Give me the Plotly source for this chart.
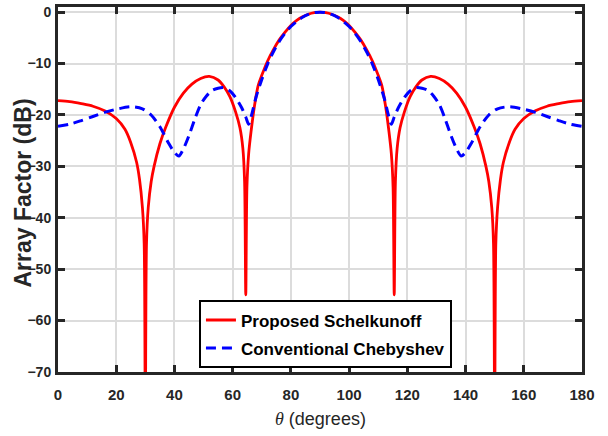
import plotly.graph_objects as go

# ---- data ----
theta_schelkunoff = [0, 4, 8, 12, 16, 20, 23, 25, 27, 28, 29, 29.6, 30, 30.4, 31, 32, 33, 35, 37, 40,
                     43, 46, 49, 52, 55, 57, 59, 61, 62.5, 63.5, 64.1, 64.5, 64.9, 65.5, 66.3, 67.5,
                     68.8, 70, 72, 74, 76, 78, 80, 82, 84, 86, 88, 90,
                     92, 94, 96, 98, 100, 102, 104, 106, 108, 110, 111.2, 112.5, 113.7, 114.5, 115.1,
                     115.5, 115.9, 116.5, 117.5, 119, 121, 123, 125, 128, 131, 134, 137, 140, 143, 145,
                     147, 148, 149, 149.6, 150, 150.4, 151, 152, 153, 155, 157, 160, 164, 168, 172,
                     176, 180]
af_schelkunoff = [-17.2, -17.4, -17.8, -18.3, -19.2, -20.7, -22.8, -25.4, -29.2, -32.5, -38, -45, -80,
                  -45, -38, -33, -30, -25.6, -22.4, -18.5, -15.8, -14.0, -12.9, -12.5, -13.2, -14.5,
                  -16.4, -19.4, -22.5, -26.5, -33, -55, -34, -27.5, -23.3, -18.2, -14.2, -12.3, -9.5,
                  -7.3, -5.4, -3.9, -2.6, -1.6, -0.9, -0.4, -0.1, 0,
                  -0.1, -0.4, -0.9, -1.6, -2.6, -3.9, -5.4, -7.3, -9.5, -12.3, -14.2, -18.2, -23.3,
                  -27.5, -34, -55, -33, -26.5, -22.5, -19.4, -16.4, -14.5, -13.2, -12.5, -12.9, -14.0,
                  -15.8, -18.5, -22.4, -25.6, -30, -33, -38, -45, -80, -45, -38, -32.5, -29.2, -25.4,
                  -22.8, -20.7, -19.2, -18.3, -17.8, -17.4, -17.2]

theta_chebyshev = [0, 4, 8, 12, 16, 20, 25, 29, 32, 35, 38, 40, 41.5, 43, 45, 47, 49, 51, 53, 55, 57,
                   59, 61, 63, 64.5, 65.5, 66.5, 68, 70, 72, 74, 76, 78, 80, 82, 84, 86, 88, 90,
                   92, 94, 96, 98, 100, 102, 104, 106, 108, 110, 112, 113.5, 114.5, 115.5, 117, 119,
                   121, 123, 125, 127, 129, 131, 133, 135, 137, 138.5, 140, 142, 145, 148, 151, 155,
                   160, 164, 168, 172, 176, 180]
af_chebyshev = [-22.2, -21.8, -21.1, -20.3, -19.5, -18.9, -18.4, -18.8, -20.0, -22.3, -25.5, -27.3,
                -28.0, -26.7, -24.0, -20.8, -18.0, -16.3, -15.2, -14.8, -14.7, -15.3, -16.6, -18.5,
                -20.4, -21.8, -20.0, -16.6, -13.1, -10.1, -7.7, -5.7, -4.1, -2.8, -1.8, -1.0, -0.45,
                -0.1, 0,
                -0.1, -0.45, -1.0, -1.8, -2.8, -4.1, -5.7, -7.7, -10.1, -13.1, -16.6, -20.0, -21.8,
                -20.4, -18.5, -16.6, -15.3, -14.7, -14.8, -15.2, -16.3, -18.0, -20.8, -24.0, -26.7,
                -28.0, -27.3, -25.5, -22.3, -20.0, -18.8, -18.4, -18.9, -19.5, -20.3, -21.1, -21.8,
                -22.2]

x_ticks = [0, 20, 40, 60, 80, 100, 120, 140, 160, 180]
y_ticks = [-70, -60, -50, -40, -30, -20, -10, 0]

FONT = "Liberation Sans, Arial, Helvetica, sans-serif"
AXC = "#262626"

fig = go.Figure()
fig.add_trace(go.Scatter(
    x=theta_schelkunoff, y=af_schelkunoff, mode="lines", name="Proposed Schelkunoff",
    legendgroup="a",
    line=dict(color="#ff0000", width=2.8, shape="spline", smoothing=0.8)))
fig.add_trace(go.Scatter(
    x=theta_chebyshev, y=af_chebyshev, mode="lines", name="Conventional Chebyshev",
    legendgroup="b",
    line=dict(color="#0000ff", width=3, dash="10px,6px", shape="spline", smoothing=0.8)))

axis_common = dict(
    showline=True, linecolor=AXC, linewidth=3, mirror="ticks",
    ticks="inside", ticklen=7, tickwidth=2.5, tickcolor=AXC,
    showgrid=True, gridcolor="#dcdcdc", gridwidth=1.6, zeroline=False,
)

fig.update_xaxes(range=[0, 180], tickvals=x_ticks, ticklabelstandoff=7,
                 tickfont=dict(family=FONT, size=15, color="#262626", weight="bold"),
                 **axis_common)
fig.update_yaxes(range=[-70, 1], tickvals=y_ticks, ticklabelstandoff=1,
                 tickfont=dict(family=FONT, size=14, color="#262626", weight="bold"),
                 **axis_common)

fig.update_layout(
    width=608, height=436,
    margin=dict(l=58, r=26, t=4, b=64),
    paper_bgcolor="white", plot_bgcolor="white",
    showlegend=True,
    legend=dict(
        x=0.269, y=0.196, xanchor="left", yanchor="top",
        bgcolor="white", bordercolor="black", borderwidth=2,
        font=dict(family=FONT, size=17, color="black", weight="bold"),
        itemwidth=30, tracegroupgap=3,
    ),
    annotations=[
        dict(text="Array Factor (dB)", textangle=-90, xref="paper", yref="paper",
             x=-0.066, y=0.49, xanchor="center", yanchor="middle", showarrow=False,
             font=dict(family=FONT, size=23, color="#262626", weight="bold")),
        dict(text="<span style='font-family:Liberation Serif'><i>θ</i></span> (degrees)",
             xref="paper", yref="paper", x=0.5, y=-0.128, xanchor="center", yanchor="middle",
             showarrow=False,
             font=dict(family=FONT, size=18, color="#262626")),
    ],
)

fig.write_html("out.html")
